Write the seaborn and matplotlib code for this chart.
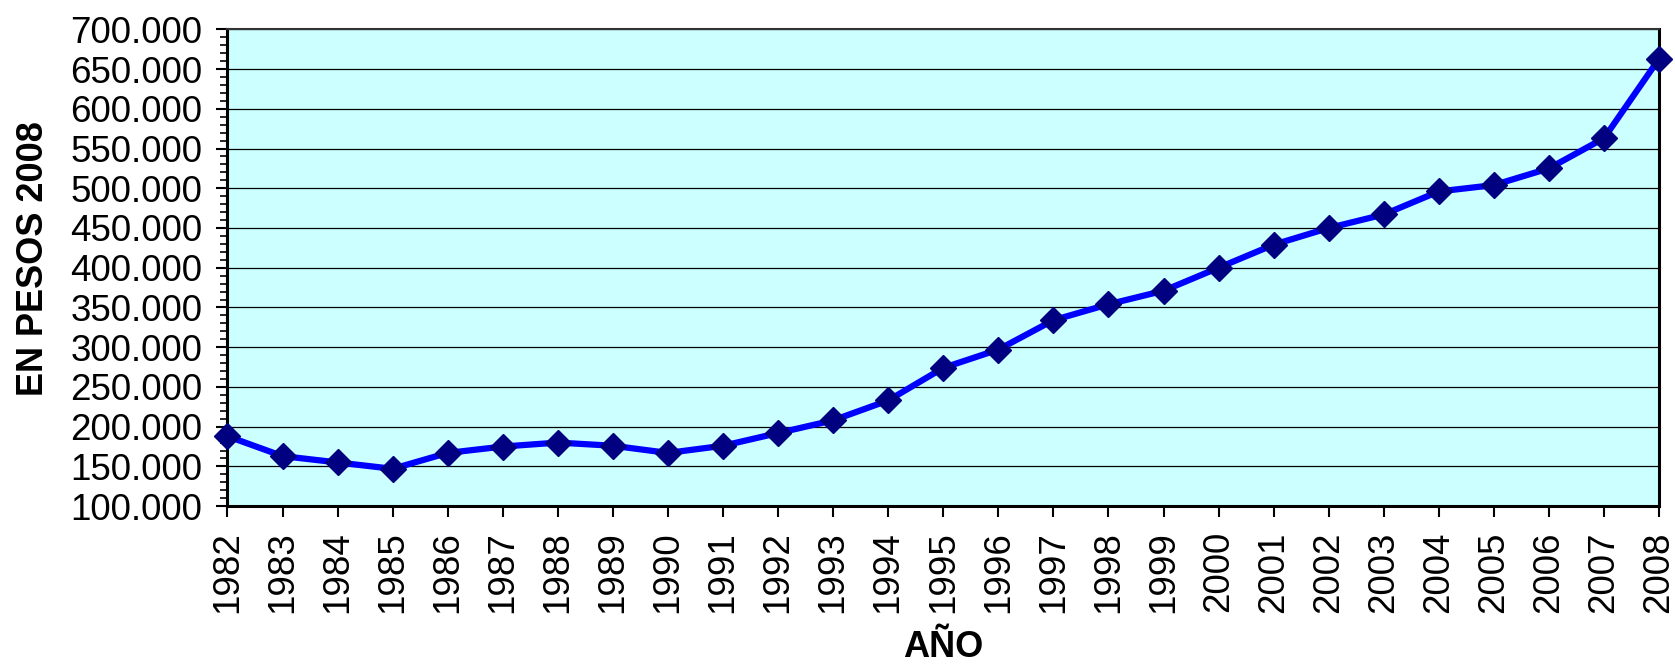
import matplotlib
matplotlib.use('Agg')
import matplotlib.pyplot as plt
import matplotlib.ticker as mticker
import seaborn as sns
import pandas as pd

# valores (pesos de 2008)
years = list(range(1982, 2009))
values = [188000, 163000, 155000, 147000, 167000, 175000, 180000, 176000, 167000,
          176000, 192000, 208000, 233000, 274000, 297000, 334000, 354000, 371000,
          400000, 429000, 450000, 467000, 496000, 504000, 525000, 563000, 663000]
y_ticks = list(range(100000, 750000, 50000))

df = pd.DataFrame({'year': years, 'value': values})

sns.set_style('white')
plt.rcParams['font.family'] = ['Liberation Sans', 'DejaVu Sans']
plt.rcParams['text.color'] = 'black'
plt.rcParams['axes.labelcolor'] = 'black'

fig = plt.figure(figsize=(16.75, 6.66), dpi=100)
ax = fig.add_axes([0.1358, 0.240, 0.9905 - 0.1358, 0.956 - 0.240])
ax.set_facecolor('#CCFFFF')

sns.lineplot(data=df, x='year', y='value', ax=ax, color='#0000FF', linewidth=4.5,
             marker='D', markersize=13, markerfacecolor='#000080',
             markeredgecolor='#000080', markeredgewidth=1, clip_on=False, zorder=5)

ax.set_xlim(1982, 2008)
ax.set_ylim(100000, 700000)
ax.set_xticks(years)
ax.set_xticklabels([str(y) for y in years], rotation=90)
ax.set_yticks(y_ticks)
ax.yaxis.set_minor_locator(mticker.MultipleLocator(10000))
ax.yaxis.set_major_formatter(mticker.FuncFormatter(lambda v, p: f'{v:,.0f}'.replace(',', '.')))

ax.grid(axis='y', which='major', color='black', linewidth=0.9)
ax.set_axisbelow(True)

ax.tick_params(axis='both', which='major', direction='out', length=8, width=1.5,
               color='black', labelsize=26.5, labelcolor='black', left=True, bottom=True)
ax.tick_params(axis='x', pad=10)
ax.tick_params(axis='y', pad=10)
ax.tick_params(axis='y', which='minor', direction='out', length=5, width=1.2,
               color='black', left=True)

for side in ['left', 'bottom', 'right']:
    ax.spines[side].set_color('black')
    ax.spines[side].set_linewidth(2.2)
ax.spines['top'].set_color('#333333')
ax.spines['top'].set_linewidth(1.5)

ax.set_xlabel('AÑO', fontsize=26, fontweight='bold', labelpad=12, color='black')
ax.set_ylabel('EN PESOS 2008', fontsize=26, fontweight='bold', color='black')
ax.yaxis.set_label_coords(-0.123, 0.52)

fig.savefig('out.png', dpi=100)
